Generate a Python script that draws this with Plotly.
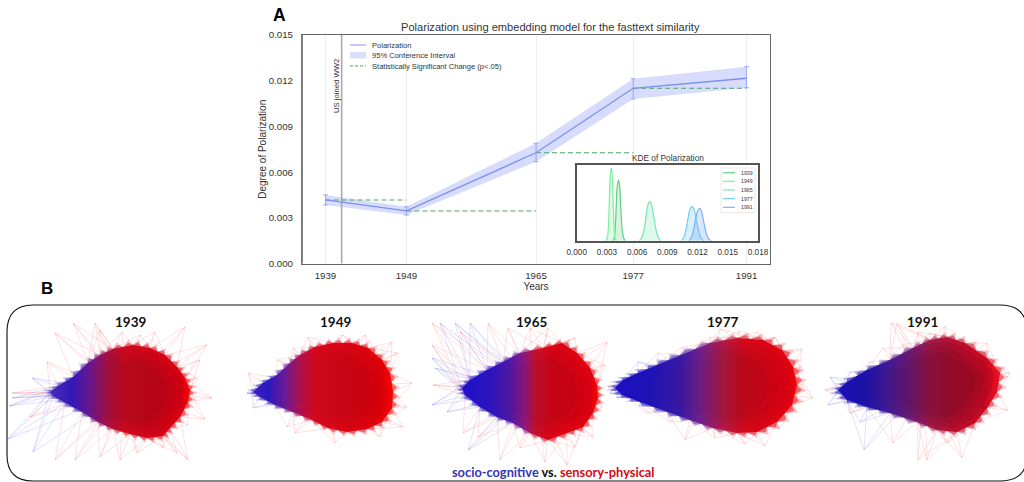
import numpy as np
import plotly.graph_objects as go

FONT = "Liberation Sans, Arial, sans-serif"
CAL = "Lato, Open Sans, sans-serif"

# ---------- Panel A data ----------
years = [1939, 1949, 1965, 1977, 1991]
polarization = [0.00417, 0.00345, 0.00727, 0.0115, 0.01216]
ci_high = [0.0045, 0.00373, 0.00789, 0.01213, 0.01292]
ci_low = [0.00384, 0.00318, 0.00668, 0.0108, 0.01154]
sig_levels = [0.00417, 0.00345, 0.00727, 0.0115]
ww2_year = 1941
y_ticks = [0.0, 0.003, 0.006, 0.009, 0.012, 0.015]
y_labels = ["0.000", "0.003", "0.006", "0.009", "0.012", "0.015"]
kde_ticks = [0.0, 0.003, 0.006, 0.009, 0.012, 0.015, 0.018]
kde_labels = ["0.000", "0.003", "0.006", "0.009", "0.012", "0.015", "0.018"]

kde_1939_x = [.00357, .00370, .00383, .00393, .00403, .00416, .00426, .00439, .00453, .00466, .00482]
kde_1939_y = [0, 6, 40, 110, 165, 182, 165, 90, 30, 8, 0]
kde_1949_x = [.00291, .00304, .00317, .00327, .00337, .00344, .00350, .00360, .00370, .00380, .00393]
kde_1949_y = [0, 8, 55, 150, 210, 217, 205, 130, 50, 10, 0]
kde_1965_x = [.00621, .00644, .00667, .00687, .00707, .00727, .00746, .00766, .00786, .00809, .00832]
kde_1965_y = [0, 8, 30, 70, 108, 117, 105, 70, 35, 10, 0]
kde_1977_x = [.01040, .01064, .01087, .01107, .01130, .01149, .01169, .01189, .01212, .01235, .01262]
kde_1977_y = [0, 10, 35, 70, 98, 102, 90, 60, 28, 8, 0]
kde_1991_x = [.01116, .01140, .01159, .01179, .01202, .01222, .01242, .01262, .01282, .01308, .01338]
kde_1991_y = [0, 10, 30, 62, 90, 97, 85, 55, 28, 6, 0]
kde_colors = ["#63cf85", "#7cf09a", "#78e6b4", "#72cdea", "#7cb0f5"]
kde_fills = ["rgba(99,207,133,.25)", "rgba(124,240,154,.25)", "rgba(120,230,180,.25)",
             "rgba(114,205,234,.3)", "rgba(124,176,245,.3)"]

# ---------- Panel B data: outlines, gradients and fringe end points ----------
net_1939_x = [50, 58, 73, 88, 100, 113, 133, 150, 165, 177, 185, 190, 188, 180, 170, 163, 147, 130, 113, 98, 82, 65, 53]
net_1939_y = [392, 386, 377, 363, 355, 349, 345, 348, 355, 367, 378, 390, 402, 417, 428, 436, 438, 434, 429, 422, 412, 403, 396]
grad_1939_x = [50, 72, 90, 108, 125, 180, 190]
grad_1939_c = ["#4a2ab8", "#3218b8", "#6a1690", "#a81040", "#d0081c", "#d80010", "#f40505"]
fringe_1939_x = [55, 73, 95, 100, 122, 140, 155, 185, 207, 200, 197, 212, 205, 188, 188, 177, 163, 137, 120, 100, 75, 55, 33, 8, 30, 9, 12, 12, 32, 47]
fringe_1939_y = [333, 323, 323, 330, 332, 335, 332, 327, 345, 360, 378, 398, 419, 425, 460, 453, 448, 453, 460, 457, 460, 460, 452, 439, 417, 406, 398, 393, 378, 362]

net_1949_x = [253, 263, 277, 290, 300, 315, 333, 352, 368, 382, 390, 393, 392, 382, 367, 347, 328, 312, 293, 275, 260]
net_1949_y = [392, 383, 375, 363, 355, 347, 343, 343, 348, 360, 373, 392, 408, 422, 429, 432, 428, 420, 412, 405, 397]
grad_1949_x = [253, 268, 285, 300, 315, 380, 393]
grad_1949_c = ["#3a20c0", "#2a18c0", "#6a1a98", "#b01050", "#d8081c", "#e00008", "#f40505"]
fringe_1949_x = [248, 247, 253, 287, 295, 335, 380, 403, 407, 412, 398, 392, 365, 342, 308, 293, 277]
fringe_1949_y = [373, 393, 408, 427, 433, 443, 437, 427, 407, 383, 353, 342, 335, 335, 337, 348, 360]

net_1965_x = [462, 470, 487, 503, 520, 543, 562, 577, 590, 597, 598, 593, 583, 567, 548, 530, 513, 497, 480, 465]
net_1965_y = [388, 380, 370, 362, 353, 348, 343, 353, 368, 385, 398, 413, 427, 433, 440, 433, 423, 417, 407, 395]
grad_1965_x = [462, 490, 510, 525, 535, 550, 590, 598]
grad_1965_c = ["#2010c8", "#2a14c0", "#5018a8", "#901880", "#c8102e", "#dc0414", "#e00010", "#f40505"]
fringe_1965_x = [432, 440, 455, 432, 432, 435, 433, 432, 447, 463, 468, 478, 500, 520, 545, 567, 575, 593, 602, 605, 607, 575, 548, 530, 508, 488, 470, 460]
fringe_1965_y = [323, 323, 323, 345, 358, 368, 385, 405, 412, 433, 450, 437, 460, 448, 462, 465, 447, 437, 407, 365, 342, 338, 328, 328, 328, 323, 323, 332]

net_1977_x = [615, 623, 638, 657, 680, 710, 737, 763, 782, 793, 797, 792, 777, 757, 737, 713, 690, 667, 640, 622]
net_1977_y = [388, 380, 373, 365, 355, 343, 338, 340, 350, 367, 385, 405, 422, 432, 433, 428, 420, 412, 402, 395]
grad_1977_x = [615, 650, 680, 700, 725, 745, 790, 797]
grad_1977_c = ["#1a10c0", "#1e12b8", "#3818a8", "#702090", "#b81840", "#d80818", "#e00010", "#f00808"]
fringe_1977_x = [608, 610, 617, 648, 670, 685, 715, 745, 765, 780, 795, 813, 803, 802, 802, 775, 757, 740, 720, 710, 682, 658, 638]
fringe_1977_y = [387, 393, 398, 413, 422, 440, 438, 444, 446, 428, 410, 398, 385, 367, 349, 337, 332, 331, 329, 337, 347, 353, 362]

net_1991_x = [838, 847, 867, 890, 913, 930, 947, 965, 987, 1000, 997, 987, 975, 957, 937, 917, 890, 867, 847]
net_1991_y = [390, 382, 370, 360, 348, 340, 337, 343, 358, 373, 392, 408, 423, 432, 430, 422, 413, 407, 400]
grad_1991_x = [838, 865, 885, 910, 930, 950, 985, 1000]
grad_1991_c = ["#1a10b8", "#1c10a8", "#3a1a9c", "#6a1a78", "#a01848", "#b81030", "#c80820", "#ee1020"]
fringe_1991_x = [825, 830, 828, 850, 860, 864, 893, 918, 927, 947, 962, 978, 1008, 1010, 990, 987, 965, 945, 930, 918, 902, 883, 897, 891, 870, 850]
fringe_1991_y = [390, 377, 405, 413, 422, 450, 443, 460, 460, 443, 458, 427, 410, 373, 357, 343, 340, 326, 333, 332, 345, 348, 323, 323, 362, 372]

net_titles = ["1939", "1949", "1965", "1977", "1991"]
net_title_x = [130, 335, 531, 722, 922]
blue_before = [45, 262, 475, 650, 868]
core_alpha = [0.08, 0.05, 0.06, 0.07, 0.14]

networks = [
    (net_1939_x, net_1939_y, grad_1939_x, grad_1939_c, fringe_1939_x, fringe_1939_y),
    (net_1949_x, net_1949_y, grad_1949_x, grad_1949_c, fringe_1949_x, fringe_1949_y),
    (net_1965_x, net_1965_y, grad_1965_x, grad_1965_c, fringe_1965_x, fringe_1965_y),
    (net_1977_x, net_1977_y, grad_1977_x, grad_1977_c, fringe_1977_x, fringe_1977_y),
    (net_1991_x, net_1991_y, grad_1991_x, grad_1991_c, fringe_1991_x, fringe_1991_y),
]

W, H = 1024, 482
fig = go.Figure()

# ---------- Panel A main ----------
fig.add_trace(go.Scatter(x=years, y=ci_high, mode="lines", line=dict(width=0), showlegend=False, xaxis="x", yaxis="y"))
fig.add_trace(go.Scatter(x=years, y=ci_low, mode="lines", line=dict(width=0), fill="tonexty",
                         fillcolor="rgba(122,140,250,.30)", name="95% Conference Interval", xaxis="x", yaxis="y"))
fig.add_trace(go.Scatter(x=[ww2_year, ww2_year], y=[0, 0.015], mode="lines", line=dict(color="#aaaaaa", width=1.6),
                         name="US joined WW2", xaxis="x", yaxis="y"))
for i, lvl in enumerate(sig_levels):
    fig.add_trace(go.Scatter(x=[years[i], years[i + 1]], y=[lvl, lvl], mode="lines",
                             line=dict(color="#4aa864", width=1.1, dash="5px,3px"),
                             name="Statistically Significant Change (p<.05)", xaxis="x", yaxis="y"))
fig.add_trace(go.Scatter(
    x=years, y=polarization, mode="lines", name="Polarization", line=dict(color="#7c8ef2", width=1.3),
    error_y=dict(type="data", symmetric=False,
                 array=[h - m for h, m in zip(ci_high, polarization)],
                 arrayminus=[m - l for m, l in zip(polarization, ci_low)],
                 color="#9aa8f6", thickness=1, width=2.5),
    xaxis="x", yaxis="y"))

# ---------- Panel A inset ----------
fig.add_trace(go.Scatter(x=[0, 0.018, 0.018, 0, 0], y=[0, 0, 226, 226, 0], mode="lines", fill="toself",
                         fillcolor="white", line=dict(width=0), showlegend=False, xaxis="x2", yaxis="y2"))
kde_series = [(kde_1939_x, kde_1939_y), (kde_1949_x, kde_1949_y), (kde_1965_x, kde_1965_y),
              (kde_1977_x, kde_1977_y), (kde_1991_x, kde_1991_y)]
for (kx, ky), c, f, name in zip(kde_series, kde_colors, kde_fills, net_titles):
    fig.add_trace(go.Scatter(x=kx, y=ky, mode="lines", line=dict(color=c, width=1.2, shape="spline"),
                             fill="tozeroy", fillcolor=f, name=name, xaxis="x2", yaxis="y2"))


# ---------- Panel B networks on a page-wide axis ----------
def toothed(nx, ny, cx, cy, peak, steps=4):
    """Saw-tooth edge around a typed outline: every other step is pushed outward."""
    ox, oy = [], []
    n = len(nx)
    for a in range(n):
        b = (a + 1) % n
        for s in range(steps):
            t = s / steps
            px = nx[a] + (nx[b] - nx[a]) * t
            py = ny[a] + (ny[b] - ny[a]) * t
            f = peak if s % 2 else 1.0
            ox.append(cx + (px - cx) * f)
            oy.append(cy + (py - cy) * f)
    ox.append(ox[0])
    oy.append(oy[0])
    return ox, oy


for i, (nx, ny, gx, gc, fx, fy) in enumerate(networks):
    nx, ny = np.array(nx, float), np.array(ny, float)
    cx, cy = nx.mean(), ny.mean()
    stops = [[(v - gx[0]) / (gx[-1] - gx[0]), c] for v, c in zip(gx, gc)]
    grad = dict(type="horizontal", colorscale=stops, start=gx[0], stop=gx[-1])
    rx, ry, bx, by = [], [], [], []
    for j, (ox, oy) in enumerate(zip(fx, fy)):
        d = np.hypot(nx - ox, ny - oy)
        near = np.argsort(d)[:3]
        targets = [(nx[k], ny[k]) for k in near] + [(cx, cy)]
        is_blue = ox < blue_before[i] and j % 3 != 0
        for tx, ty in targets:
            (bx if is_blue else rx).extend([ox, tx, None])
            (by if is_blue else ry).extend([oy, ty, None])
    fig.add_trace(go.Scatter(x=rx, y=ry, mode="lines", line=dict(color="rgba(250,60,70,.26)", width=0.6),
                             showlegend=False, xaxis="x3", yaxis="y3"))
    fig.add_trace(go.Scatter(x=bx, y=by, mode="lines", line=dict(color="rgba(70,70,230,.28)", width=0.6),
                             showlegend=False, xaxis="x3", yaxis="y3"))
    for peak, op in [(1.13, 0.22), (1.07, 0.5)]:
        hx, hy = toothed(nx, ny, cx, cy, peak)
        fig.add_trace(go.Scatter(x=hx, y=hy, mode="lines", line=dict(width=0), fill="toself", fillgradient=grad,
                                 opacity=op, showlegend=False, xaxis="x3", yaxis="y3"))
    fig.add_trace(go.Scatter(x=np.r_[nx, nx[0]], y=np.r_[ny, ny[0]], mode="lines", line=dict(width=0), fill="toself",
                             fillgradient=grad, name=net_titles[i], xaxis="x3", yaxis="y3"))
    a = core_alpha[i]
    for scale in (0.92, 0.8, 0.68):
        kx = cx + (np.r_[nx, nx[0]] - cx) * scale
        ky = cy + (np.r_[ny, ny[0]] - cy) * scale
        core = dict(type="horizontal", start=float(kx.min()), stop=float(kx.max()),
                    colorscale=[[0, "rgba(60,0,50,0)"], [0.4, f"rgba(70,0,40,{a * .5})"],
                                [0.7, f"rgba(80,0,30,{a})"], [1, f"rgba(80,0,30,{a})"]])
        fig.add_trace(go.Scatter(x=kx, y=ky, mode="lines", line=dict(width=0), fill="toself", fillgradient=core,
                                 showlegend=False, xaxis="x3", yaxis="y3"))


def txt(x, y, s, size, color="#333333", family=FONT, anchor="center", angle=0):
    return dict(x=x, y=y, xref="x3", yref="y3", text=s, showarrow=False, xanchor=anchor, yanchor="middle",
                font=dict(size=size, color=color, family=family), textangle=angle, borderpad=0)


annotations = [
    txt(279, 15, "<b>A</b>", 17.5, "#000000"),
    txt(47, 288.5, "<b>B</b>", 17, "#000000"),
    txt(550.5, 27, "Polarization using embedding model for the fasttext similarity", 11.1),
    txt(336.5, 86.5, "US joined WW2", 7.7, angle=-90),
    txt(667.5, 158, "KDE of Polarization", 8.3),
    txt(371, 45, "Polarization", 7.55, anchor="left"),
    txt(371, 55.5, "95% Conference Interval", 7.55, anchor="left"),
    txt(371, 66, "Statistically Significant Change (p<.05)", 7.55, anchor="left"),
    txt(553.5, 472, "<b><span style='color:#3535b5'>socio-cognitive</span> vs. "
                    "<span style='color:#d40a14'>sensory-physical</span></b>", 12.8, "#111111", CAL),
]
for t, x in zip(net_titles, net_title_x):
    annotations.append(txt(x, 322, f"<b>{t}</b>", 13.5, "#111111", CAL))

legend_rows = [172.7, 181.3, 190, 198.7, 207.3]
for t, yy in zip(net_titles, legend_rows):
    annotations.append(txt(740, yy, t, 5.2, anchor="left"))


def seg(x0, y0, x1, y1, color, width=1.0, dash="solid"):
    return dict(type="line", xref="x3", yref="y3", x0=x0, y0=y0, x1=x1, y1=y1,
                line=dict(color=color, width=width, dash=dash))


shapes = [
    dict(type="path", xref="x3", yref="y3",
         path="M33,305 L1000,305 Q1027,305 1027,332 L1027,455 Q1027,481 1000,481 "
              "L33,481 Q7,481 7,455 L7,332 Q7,305 33,305 Z",
         line=dict(color="#111111", width=1.1)),
    seg(7, 332, 7, 455, "#777777", 1.8),
    seg(302, 35, 302, 263.5, "#777777", 1.8),
    seg(350, 45, 366, 45, "#a4b0f8", 1.3),
    dict(type="rect", xref="x3", yref="y3", x0=350, x1=366, y0=52, y1=58.5,
         fillcolor="#d9dffd", line=dict(width=0)),
    seg(350, 66, 366, 66, "#4aa864", 1.1, "3px,2px"),
    dict(type="rect", xref="x3", yref="y3", x0=721, x1=755, y0=168, y1=212.7,
         fillcolor="white", line=dict(color="#e2e2e2", width=0.8)),
]
for c, yy in zip(kde_colors, legend_rows):
    shapes.append(seg(723, yy, 735, yy, c, 1.2))

fig.update_layout(
    width=W, height=H, margin=dict(l=0, r=0, t=0, b=0, pad=0, autoexpand=False), autosize=False,
    paper_bgcolor="white", plot_bgcolor="rgba(0,0,0,0)", showlegend=False, hovermode=False,
    font=dict(family=FONT, size=10, color="#333333"),
    annotations=annotations, shapes=shapes,
    xaxis=dict(domain=[302 / W, 770 / W], range=[1936.1, 1993.9], tickvals=years, ticktext=[str(y) for y in years],
               showgrid=True, gridcolor="#eeeeee", gridwidth=1, zeroline=False, showline=True, mirror=True,
               linecolor="#666666", linewidth=1.2, ticks="outside", ticklen=3, tickcolor="rgba(0,0,0,0)",
               tickfont=dict(size=9.7, color="#333333"), anchor="y",
               title=dict(text="Years", font=dict(size=10, color="#333333"), standoff=2)),
    yaxis=dict(domain=[1 - 263.5 / H, 1 - 35 / H], range=[0, 0.015], tickvals=y_ticks, ticktext=y_labels,
               showgrid=False, zeroline=False, showline=True, mirror=True, linecolor="#666666", linewidth=1.2,
               ticks="outside", ticklen=6, tickcolor="rgba(0,0,0,0)", tickfont=dict(size=9.7, color="#333333"),
               anchor="x", title=dict(text="Degree of Polarization", font=dict(size=10, color="#333333"), standoff=0)),
    xaxis2=dict(domain=[576.7 / W, 758 / W], range=[0, 0.018], tickvals=kde_ticks, ticktext=kde_labels,
                showgrid=False, zeroline=False, showline=True, mirror=True, linecolor="#555555", linewidth=1.5,
                ticks="outside", ticklen=3, tickcolor="rgba(0,0,0,0)", tickfont=dict(size=8.2, color="#333333"),
                anchor="y2"),
    yaxis2=dict(domain=[1 - 240.7 / H, 1 - 165.3 / H], range=[0, 226], showticklabels=False, ticks="",
                showgrid=False, zeroline=False, showline=True, mirror=True, linecolor="#555555", linewidth=1.5,
                anchor="x2"),
    xaxis3=dict(domain=[0, 1], range=[0, W], visible=False, anchor="y3", fixedrange=True),
    yaxis3=dict(domain=[0, 1], range=[H, 0], visible=False, anchor="x3", fixedrange=True),
)

fig.write_html("out.html", config=dict(displayModeBar=False),
               post_script="document.body.style.margin='0';document.body.style.overflow='hidden';")
